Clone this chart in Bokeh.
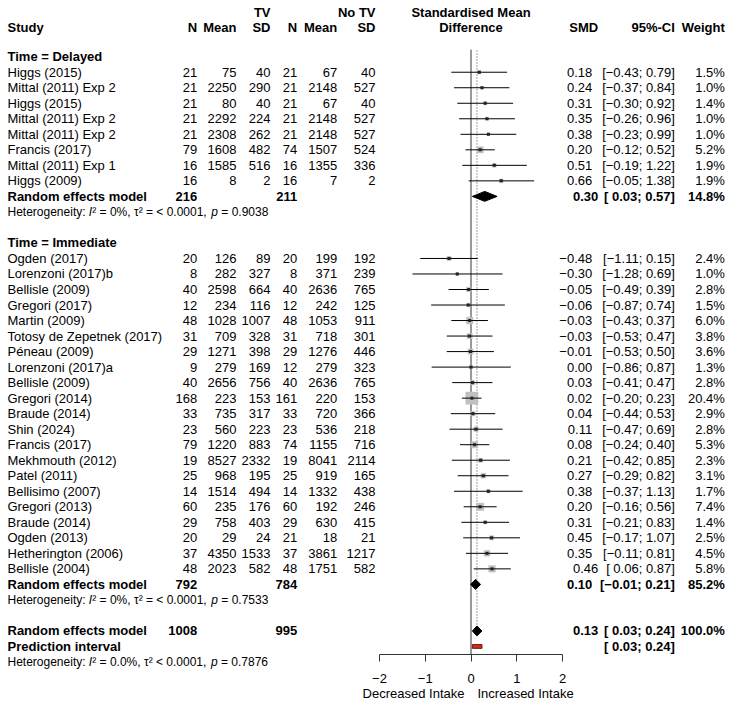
import math
from bokeh.plotting import figure
from bokeh.models import ColumnDataSource, Range1d, FixedTicker, CustomJSTickFormatter
from bokeh.core.properties import value
from bokeh.embed import file_html
from bokeh.resources import INLINE

# ---------------- data ----------------
delayed_study = ["Higgs (2015)", "Mittal (2011) Exp 2", "Higgs (2015)", "Mittal (2011) Exp 2",
                 "Mittal (2011) Exp 2", "Francis (2017)", "Mittal (2011) Exp 1", "Higgs (2009)"]
delayed_n_tv = [21, 21, 21, 21, 21, 79, 16, 16]
delayed_mean_tv = [75, 2250, 80, 2292, 2308, 1608, 1585, 8]
delayed_sd_tv = [40, 290, 40, 224, 262, 482, 516, 2]
delayed_n_ctl = [21, 21, 21, 21, 21, 74, 16, 16]
delayed_mean_ctl = [67, 2148, 67, 2148, 2148, 1507, 1355, 7]
delayed_sd_ctl = [40, 527, 40, 527, 527, 524, 336, 2]
delayed_smd = [0.18, 0.24, 0.31, 0.35, 0.38, 0.20, 0.51, 0.66]
delayed_lo = [-0.43, -0.37, -0.30, -0.26, -0.23, -0.12, -0.19, -0.05]
delayed_hi = [0.79, 0.84, 0.92, 0.96, 0.99, 0.52, 1.22, 1.38]
delayed_weight = [1.5, 1.0, 1.4, 1.0, 1.0, 5.2, 1.9, 1.9]

immediate_study = ["Ogden (2017)", "Lorenzoni (2017)b", "Bellisle (2009)", "Gregori (2017)", "Martin (2009)",
                   "Totosy de Zepetnek (2017)", "Péneau (2009)", "Lorenzoni (2017)a", "Bellisle (2009)",
                   "Gregori (2014)", "Braude (2014)", "Shin (2024)", "Francis (2017)", "Mekhmouth (2012)",
                   "Patel (2011)", "Bellisimo (2007)", "Gregori (2013)", "Braude (2014)", "Ogden (2013)",
                   "Hetherington (2006)", "Bellisle (2004)"]
immediate_n_tv = [20, 8, 40, 12, 48, 31, 29, 9, 40, 168, 33, 23, 79, 19, 25, 14, 60, 29, 20, 37, 48]
immediate_mean_tv = [126, 282, 2598, 234, 1028, 709, 1271, 279, 2656, 223, 735, 560, 1220, 8527, 968, 1514,
                     235, 758, 29, 4350, 2023]
immediate_sd_tv = [89, 327, 664, 116, 1007, 328, 398, 169, 756, 153, 317, 223, 883, 2332, 195, 494, 176, 403,
                   24, 1533, 582]
immediate_n_ctl = [20, 8, 40, 12, 48, 31, 29, 12, 40, 161, 33, 23, 74, 19, 25, 14, 60, 29, 21, 37, 48]
immediate_mean_ctl = [199, 371, 2636, 242, 1053, 718, 1276, 279, 2636, 220, 720, 536, 1155, 8041, 919, 1332,
                      192, 630, 18, 3861, 1751]
immediate_sd_ctl = [192, 239, 765, 125, 911, 301, 446, 323, 765, 153, 366, 218, 716, 2114, 165, 438, 246, 415,
                    21, 1217, 582]
immediate_smd = [-0.48, -0.30, -0.05, -0.06, -0.03, -0.03, -0.01, 0.00, 0.03, 0.02, 0.04, 0.11, 0.08, 0.21,
                 0.27, 0.38, 0.20, 0.31, 0.45, 0.35, 0.46]
immediate_lo = [-1.11, -1.28, -0.49, -0.87, -0.43, -0.53, -0.53, -0.86, -0.41, -0.20, -0.44, -0.47, -0.24,
                -0.42, -0.29, -0.37, -0.16, -0.21, -0.17, -0.11, 0.06]
immediate_hi = [0.15, 0.69, 0.39, 0.74, 0.37, 0.47, 0.50, 0.87, 0.47, 0.23, 0.53, 0.69, 0.40, 0.85, 0.82,
                1.13, 0.56, 0.83, 1.07, 0.81, 0.87]
immediate_weight = [2.4, 1.0, 2.8, 1.5, 6.0, 3.8, 3.6, 1.3, 2.8, 20.4, 2.9, 2.8, 5.3, 2.3, 3.1, 1.7, 7.4, 1.4,
                    2.5, 4.5, 5.8]

group_labels = ["Time = Delayed", "Time = Immediate"]
group_n_tv = [216, 792]
group_n_ctl = [211, 784]
group_smd = [0.30, 0.10]
group_lo = [0.03, -0.01]
group_hi = [0.57, 0.21]
group_weight = [14.8, 85.2]
# heterogeneity statistics: I², tau² text, p-value
group_het_i2 = ["0%", "0%"]
group_het_tau2 = ["= < 0.0001", "= < 0.0001"]
group_het_p = ["0.9038", "0.7533"]

overall_n_tv = 1008
overall_n_ctl = 995
overall_smd = 0.13
overall_lo = 0.03
overall_hi = 0.24
overall_weight = 100.0
predict_lo = 0.03
predict_hi = 0.24
overall_het_i2 = "0.0%"
overall_het_tau2 = "< 0.0001"
overall_het_p = "0.7876"

axis_ticks = [-2, -1, 0, 1, 2]
label_left = "Decreased Intake"
label_right = "Increased Intake"

# ---------------- layout ----------------
W, H = 735, 706
FONT = "Liberation Sans"
FS = "13px"
X0_PX, X_SCALE = 470.5, 45.75      # canvas px of SMD=0, px per unit
Y0_PX, ROW_PX = 56.2, 15.52        # canvas px of row 0, px per row

# approximate Arial/Liberation Sans advance widths (em) for layout of mixed-style text
ADV = {"H": .722, "e": .556, "t": .278, "r": .333, "o": .556, "g": .556, "n": .556, "i": .222, "y": .5,
       ":": .278, " ": .278, "I": .278, "\u00b2": .333, "=": .584, "%": .889, ",": .278, "\u03c4": .5,
       "<": .584, ".": .278, "p": .556}


def tw(s, size):
    return sum(ADV.get(c, .556) for c in s) * size


def px(xc):
    return (xc - X0_PX) / X_SCALE


def f2(v):
    return ("\u2212" if v < 0 else "") + f"{abs(v):.2f}"


def ci(lo, hi):
    lo_s = ("\u2212" + f"{abs(lo):.2f}") if lo < 0 else (" " + f"{lo:.2f}")
    return "[" + lo_s + "; " + f2(hi) + "]"


p = figure(width=W, height=H,
           x_range=Range1d(px(0), px(W)),
           y_range=Range1d((H - Y0_PX) / ROW_PX, -Y0_PX / ROW_PX),
           output_backend="svg", toolbar_location=None, min_border=0,
           y_axis_location=None, outline_line_color=None)
p.grid.visible = False
p.background_fill_color = "white"
p.border_fill_color = "white"


def put(xc, rows, texts, align, bold=False, size=FS, xs=None, italic=False):
    if xs is None:
        xs = [px(xc)] * len(rows)
    src = ColumnDataSource(dict(x=xs, y=rows, t=texts))
    style = "bold" if bold else ("italic" if italic else "normal")
    p.text(x="x", y="y", text="t", source=src, text_align=align, text_baseline="middle",
           text_font=value(FONT), text_font_size=size,
           text_font_style=style, text_color="black")


# column positions (canvas px)
C_STUDY, C_N1, C_M1, C_S1, C_N2, C_M2, C_S2 = 7, 196.7, 236, 270, 296.7, 336.7, 375
C_SMD_NEG, C_SMD_POS, C_CI, C_W = 591.7, 597.7, 674.3, 724.3

groups = [
    (delayed_study, delayed_n_tv, delayed_mean_tv, delayed_sd_tv, delayed_n_ctl, delayed_mean_ctl,
     delayed_sd_ctl, delayed_smd, delayed_lo, delayed_hi, delayed_weight),
    (immediate_study, immediate_n_tv, immediate_mean_tv, immediate_sd_tv, immediate_n_ctl,
     immediate_mean_ctl, immediate_sd_ctl, immediate_smd, immediate_lo, immediate_hi, immediate_weight),
]

st_rows, st_name, st_n1, st_m1, st_s1, st_n2, st_m2, st_s2 = [], [], [], [], [], [], [], []
st_smd, st_lo, st_hi, st_w = [], [], [], []
lab_rows, sum_rows, het_rows = [], [], []
r = 0
for g in groups:
    lab_rows.append(r)
    r += 1
    n = len(g[0])
    for i in range(n):
        st_rows.append(r + i)
        st_name.append(g[0][i]); st_n1.append(g[1][i]); st_m1.append(g[2][i]); st_s1.append(g[3][i])
        st_n2.append(g[4][i]); st_m2.append(g[5][i]); st_s2.append(g[6][i])
        st_smd.append(g[7][i]); st_lo.append(g[8][i]); st_hi.append(g[9][i]); st_w.append(g[10][i])
    r += n
    sum_rows.append(r)
    het_rows.append(r + 1)
    r += 3
overall_row = r
predict_row = r + 1
overall_het_row = r + 2
axis_row = predict_row + 0.5

# ---------------- header ----------------
hr1, hr2 = -2.87, -1.90
put(C_STUDY, [hr2], ["Study"], "left", bold=True)
put(C_S1, [hr1], ["TV"], "right", bold=True)
put(C_S2, [hr1], ["No TV"], "right", bold=True)
for c, t in [(C_N1, "N"), (C_M1, "Mean"), (C_S1, "SD"), (C_N2, "N"), (C_M2, "Mean"), (C_S2, "SD"),
             (C_SMD_POS, "SMD"), (C_CI, "95%-CI"), (C_W, "Weight")]:
    put(c, [hr2], [t], "right", bold=True)
put(X0_PX, [hr1], ["Standardised Mean"], "center", bold=True)
put(X0_PX, [hr2], ["Difference"], "center", bold=True)

# ---------------- study rows text ----------------
put(C_STUDY, st_rows, st_name, "left")
put(C_N1, st_rows, [str(v) for v in st_n1], "right")
put(C_M1, st_rows, [str(v) for v in st_m1], "right")
put(C_S1, st_rows, [str(v) for v in st_s1], "right")
put(C_N2, st_rows, [str(v) for v in st_n2], "right")
put(C_M2, st_rows, [str(v) for v in st_m2], "right")
put(C_S2, st_rows, [str(v) for v in st_s2], "right")
put(None, st_rows, [f2(v) for v in st_smd], "right",
    xs=[px(C_SMD_NEG if lo < 0 else C_SMD_POS) for lo in st_lo])
put(C_CI, st_rows, [ci(a, b) for a, b in zip(st_lo, st_hi)], "right")
put(C_W, st_rows, [f"{w:.1f}%" for w in st_w], "right")

# group labels, summaries
put(C_STUDY, lab_rows, group_labels, "left", bold=True)
put(C_STUDY, sum_rows + [overall_row], ["Random effects model"] * 3, "left", bold=True)
put(C_STUDY, [predict_row], ["Prediction interval"], "left", bold=True)
put(C_N1, sum_rows + [overall_row], [str(v) for v in group_n_tv + [overall_n_tv]], "right", bold=True)
put(C_N2, sum_rows + [overall_row], [str(v) for v in group_n_ctl + [overall_n_ctl]], "right", bold=True)
all_lo = group_lo + [overall_lo]
all_hi = group_hi + [overall_hi]
all_smd = group_smd + [overall_smd]
put(None, sum_rows + [overall_row], [f2(v) for v in all_smd], "right", bold=True,
    xs=[px(C_SMD_NEG if lo < 0 else C_SMD_POS) for lo in all_lo])
put(C_CI, sum_rows + [overall_row, predict_row],
    [ci(a, b) for a, b in zip(all_lo + [predict_lo], all_hi + [predict_hi])], "right", bold=True)
put(C_W, sum_rows + [overall_row], [f"{w:.1f}%" for w in group_weight + [overall_weight]], "right", bold=True)

# heterogeneity lines (mixed normal / italic pieces)
HS = 12
for row, i2, tau, pv in zip(het_rows + [overall_het_row], group_het_i2 + [overall_het_i2],
                            group_het_tau2 + [overall_het_tau2], group_het_p + [overall_het_p]):
    x = C_STUDY
    a = "Heterogeneity: "
    put(None, [row], [a.strip()], "left", size=f"{HS}px", xs=[px(x)])
    x += tw(a, HS)
    put(None, [row], ["I"], "left", size=f"{HS}px", xs=[px(x)], italic=True)
    x += tw("I", HS)
    c = "\u00b2 = " + i2 + ", \u03c4\u00b2 " + tau + ", "
    put(None, [row], [c.strip()], "left", size=f"{HS}px", xs=[px(x)])
    x += tw(c, HS)
    put(None, [row], ["p"], "left", size=f"{HS}px", xs=[px(x)], italic=True)
    x += tw("p ", HS)
    put(None, [row], ["= " + pv], "left", size=f"{HS}px", xs=[px(x)])

# ---------------- forest graphics ----------------
# reference lines
p.segment(x0=[0], x1=[0], y0=[-0.45], y1=[axis_row], line_color="#333333", line_width=1)
p.segment(x0=[overall_smd], x1=[overall_smd], y0=[-0.40], y1=[overall_row - 0.32],
          line_color="#444444", line_width=1, line_dash="1 2")

# squares (area ~ weight)
sq = ColumnDataSource(dict(x=st_smd, y=st_rows, s=[2.72 * math.sqrt(w) for w in st_w],
                           lo=st_lo, hi=st_hi))
p.scatter(x="x", y="y", size="s", marker="square", source=sq, fill_color="#c0c0c0",
          line_color="#c0c0c0", line_width=0.5)
p.segment(x0="lo", x1="hi", y0="y", y1="y", source=sq, line_color="black", line_width=1)
p.scatter(x="x", y="y", size=3, marker="square", source=sq, fill_color="#222222", line_color=None)

# diamonds
dh = 0.32
d_rows = sum_rows + [overall_row]
xs = [[lo, m, hi, m] for lo, m, hi in zip(all_lo, all_smd, all_hi)]
ys = [[rr, rr - dh, rr, rr + dh] for rr in d_rows]
p.patches(xs=xs, ys=ys, fill_color="black", line_color="black", line_width=1)

# prediction interval
p.quad(left=[predict_lo], right=[predict_hi], top=[predict_row - 0.12], bottom=[predict_row + 0.12],
       fill_color="#e3261a", line_color="#5a1a10", line_width=1)

# axis
ax = p.xaxis[0]
ax.fixed_location = axis_row
ax.bounds = (axis_ticks[0], axis_ticks[-1])
ax.ticker = FixedTicker(ticks=axis_ticks, minor_ticks=[])
ax.formatter = CustomJSTickFormatter(code="return (tick < 0 ? '\\u2212' : '') + Math.abs(tick).toFixed(0);")
ax.major_tick_out = 7
ax.major_tick_in = 0
ax.minor_tick_out = 0
ax.minor_tick_in = 0
ax.axis_line_color = "#333333"
ax.major_tick_line_color = "#333333"
ax.major_label_text_font = FONT
ax.major_label_text_font_size = FS
ax.major_label_text_color = "black"
ax.major_label_standoff = 13

lab_row = (692.7 - Y0_PX) / ROW_PX
put(X0_PX - 6.5, [lab_row], [label_left], "right")
put(X0_PX + 6.5, [lab_row], [label_right], "left")

open("out.html", "w").write(file_html(p, INLINE))
